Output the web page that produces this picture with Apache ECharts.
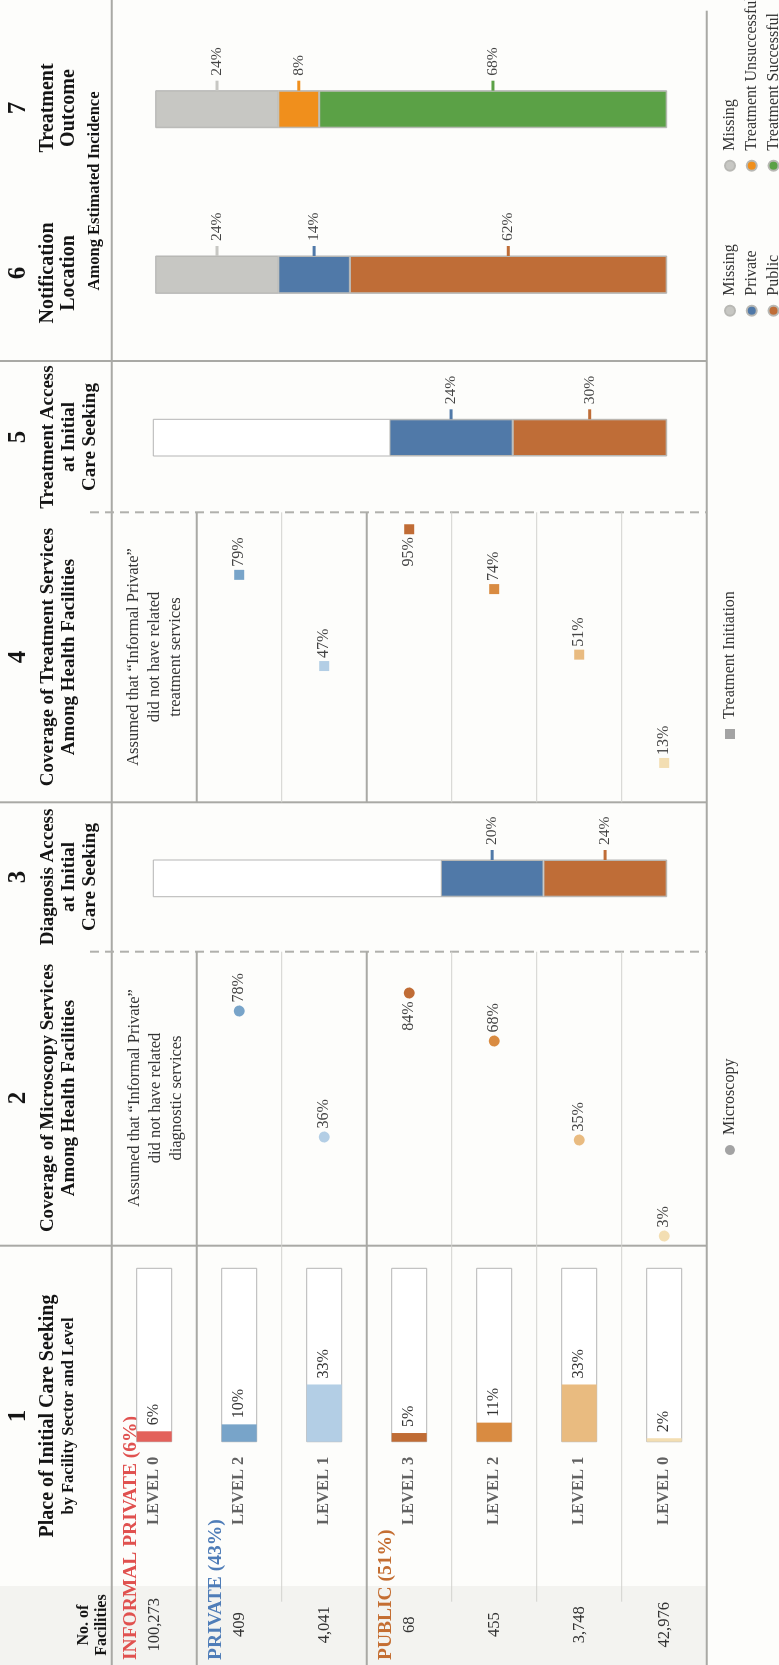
<!DOCTYPE html>
<html><head><meta charset="utf-8">
<script src="https://cdn.jsdelivr.net/npm/echarts@6/dist/echarts.min.js"></script>
<style>
html,body{margin:0;padding:0;width:779px;height:1665px;overflow:hidden;background:#fdfdfb;}
#wrap{position:absolute;left:0;top:0;width:1665px;height:779px;transform-origin:0 0;transform:translate(0,1665px) rotate(-90deg);}
#chart{width:1665px;height:779px;}
</style></head>
<body><div id="wrap"><div id="chart"></div></div>
<script>
// ---------- DATA ----------
const rowIds = ['IP-L0','PR-L2','PR-L1','PU-L3','PU-L2','PU-L1','PU-L0'];
const rowLevels = ['LEVEL 0','LEVEL 2','LEVEL 1','LEVEL 3','LEVEL 2','LEVEL 1','LEVEL 0'];
const facilityCounts = ['100,273','409','4,041','68','455','3,748','42,976'];
const initialCareSeeking = [6,10,33,5,11,33,2];
const microscopyCoverage = [null,78,36,84,68,35,3];
const treatmentCoverage = [null,79,47,95,74,51,13];
const sectorNames = ['INFORMAL PRIVATE','PRIVATE','PUBLIC'];
const sectorShares = [6,43,51];
const sectorFirstRow = [0,1,3];
const accessSectors = ['Private','Public'];
const diagnosisAccess = [20,24];
const treatmentAccess = [24,30];
const notificationCats = ['Missing','Private','Public'];
const notificationLocation = [24,14,62];
const outcomeCats = ['Missing','Treatment Unsuccessful','Treatment Successful'];
const treatmentOutcome = [24,8,68];

// ---------- STYLE / LAYOUT ----------
const FONT = '"Liberation Serif","Times New Roman",serif';
const rowColors = ['#e3615b','#78a4c9','#b3cee5','#c06c35','#d98b41','#e9bb80','#f3deb2'];
const sectorColors = ['#e0514f','#4f7db8','#c46e32'];
const segColors = {'Missing':'#c7c7c3','Private':'#5079a8','Public':'#bf6d37','Treatment Unsuccessful':'#f08f1c','Treatment Successful':'#5ba146'};
const ROW_TOP = 111.7, ROW_H = 85, NROWS = 7, ROW_BOTTOM = ROW_TOP + ROW_H*NROWS;
const thick = {stroke:'#a9a9a5', lineWidth:2};
const thin = {stroke:'#d2d2ce', lineWidth:1};
const dashed = {stroke:'#b0b0ac', lineWidth:2, lineDash:[9,6]};

function T(x, y, text, size, bold, color, align) {
  const a = align || 'center';
  return {type:'text', x:x, y:y, silent:true, style:{text:text, fill:color||'#151515',
    font:(bold?'bold ':'')+size+'px '+FONT, textAlign:a, align:a, textVerticalAlign:'middle', verticalAlign:'middle'}};
}
function Ln(x1,y1,x2,y2,st){ return {type:'line', silent:true, shape:{x1,y1,x2,y2}, style:Object.assign({},st)}; }

const g = [];
g.push({type:'rect', silent:true, shape:{x:0,y:0,width:79,height:ROW_BOTTOM}, style:{fill:'#f3f3f0'}});
g.push(Ln(0,ROW_TOP,1665,ROW_TOP,thick));
g.push(Ln(0,ROW_BOTTOM,1654.3,ROW_BOTTOM,thick));
[419.3,862.7,1304].forEach(x=>g.push(Ln(x,0,x,ROW_BOTTOM,thick)));
[713.3,1152.7].forEach(x=>g.push(Ln(x,90,x,ROW_BOTTOM,dashed)));
const thickRows=[1,3], thinRows=[2,4,5,6];
thickRows.forEach(r=>{const y=ROW_TOP+r*ROW_H; g.push(Ln(0,y,419.3,y,thick)); g.push(Ln(419.3,y,713.3,y,thick)); g.push(Ln(862.7,y,1152.7,y,thick));});
thinRows.forEach(r=>{const y=ROW_TOP+r*ROW_H; g.push(Ln(63.3,y,419.3,y,thin)); g.push(Ln(419.3,y,713.3,y,thin)); g.push(Ln(862.7,y,1152.7,y,thin));});

const headers = [
  {x:249, n:'1', lines:[['Place of Initial Care Seeking',20],['by Facility Sector and Level',16.5]]},
  {x:567, n:'2', lines:[['Coverage of Microscopy Services',19],['Among Health Facilities',19]]},
  {x:788, n:'3', lines:[['Diagnosis Access',19],['at Initial',19],['Care Seeking',19]]},
  {x:1008, n:'4', lines:[['Coverage of Treatment Services',19],['Among Health Facilities',19]]},
  {x:1228, n:'5', lines:[['Treatment Access',19],['at Initial',19],['Care Seeking',19]]},
  {x:1392, n:'6', lines:[['Notification',20],['Location',20]]},
  {x:1557, n:'7', lines:[['Treatment',20],['Outcome',20]]}
];
const lineY=[48,69,90];
headers.forEach(h=>{ g.push(T(h.x,19,h.n,25,true)); h.lines.forEach((l,i)=>g.push(T(h.x,lineY[i],l[0],l[1],true))); });
g.push(T(1474,95,'Among Estimated Incidence',16.5,true));
g.push(T(40,84,'No. of',16,true));
g.push(T(40,102,'Facilities',16,true));
sectorNames.forEach((s,i)=>{ g.push(T(5, ROW_TOP+sectorFirstRow[i]*ROW_H+19, s+' ('+sectorShares[i]+'%)', 19.5, true, sectorColors[i], 'left')); });
const note2=['Assumed that \u201cInformal Private\u201d','did not have related','diagnostic services'];
const note4=['Assumed that \u201cInformal Private\u201d','did not have related','treatment services'];
note2.forEach((t,i)=>g.push(T(567,135+i*21,t,16.5,false,'#333')));
note4.forEach((t,i)=>g.push(T(1008,134+i*21,t,16.5,false,'#333')));

// ---------- SERIES ----------
const series = [];
series.push({type:'bar', name:'Initial Care Seeking', xAxisIndex:0, yAxisIndex:0, barWidth:35,
  data: initialCareSeeking.map((v,i)=>({value:v, itemStyle:{color:rowColors[i]}})),
  showBackground:true, backgroundStyle:{color:'#ffffff', borderColor:'#b5b5b5', borderWidth:1},
  label:{show:true, position:'right', distance:6, formatter:'{c}%', fontFamily:FONT, fontSize:16, color:'#333'}});
function dots(vals, name, symbol, size, xi, yi){
  const data=[];
  vals.forEach((v,i)=>{ if(v==null) return; data.push({value:[v,i], itemStyle:{color:rowColors[i]},
    label:{position: v>80?'left':'right'}}); });
  return {type:'scatter', name, symbol, symbolSize:size, xAxisIndex:xi, yAxisIndex:yi, data,
    itemStyle:{color:'#a3a3a3', opacity:1},
    label:{show:true, distance:3, formatter:p=>p.value[0]+'%', fontFamily:FONT, fontSize:16, color:'#444'}};
}
series.push(dots(microscopyCoverage,'Microscopy','circle',11,1,2));
series.push(dots(treatmentCoverage,'Treatment Initiation','rect',10,2,3));
function stack(cats, vals, gi){
  for(let k=cats.length-1;k>=0;k--){
    const c=segColors[cats[k]];
    series.push({type:'bar', name:cats[k], stack:'s'+gi, xAxisIndex:gi, yAxisIndex:gi+1, barWidth:'100%',
      data:[vals[k]], itemStyle:{color:c, borderColor:'#b8b8b4', borderWidth:1},
      showBackground: k===cats.length-1, backgroundStyle:{color:'#ffffff', borderColor:'#b5b5b5', borderWidth:1},
      label:{show:true, position:'right', distance:0, formatter:'{t|}{v|{c}%}',
        rich:{t:{width:10,height:3,backgroundColor:c,verticalAlign:'middle'},
              v:{fontFamily:FONT,fontSize:15.5,color:'#444',padding:[0,0,0,5],verticalAlign:'middle'}}}});
  }
}
stack(accessSectors, diagnosisAccess, 3);
stack(accessSectors, treatmentAccess, 4);
stack(notificationCats, notificationLocation, 5);
stack(outcomeCats, treatmentOutcome, 6);

const hiddenCat = {type:'category', data:rowIds, inverse:true, show:false};
const gridBase = {outerBoundsMode:'none', containLabel:false};
const option = {
  backgroundColor:'#fdfdfb', animation:false, textStyle:{fontFamily:FONT},
  grid:[
    Object.assign({left:223.3, top:ROW_TOP, width:173.4, height:ROW_H*NROWS}, gridBase),
    Object.assign({left:420, top:ROW_TOP, width:300, height:ROW_H*NROWS}, gridBase),
    Object.assign({left:865, top:ROW_TOP, width:285, height:ROW_H*NROWS}, gridBase),
    Object.assign({left:768.3, top:153.3, width:36.7, height:513.4}, gridBase),
    Object.assign({left:1209, top:153.3, width:36.7, height:513.4}, gridBase),
    Object.assign({left:1371.7, top:155.7, width:37.3, height:511}, gridBase),
    Object.assign({left:1537.3, top:155.7, width:37, height:511}, gridBase)
  ],
  xAxis:[
    {gridIndex:0, type:'value', min:0, max:100, show:false},
    {gridIndex:1, type:'value', min:0, max:100, show:false},
    {gridIndex:2, type:'value', min:0, max:100, show:false},
    {gridIndex:3, type:'category', data:['all'], show:false},
    {gridIndex:4, type:'category', data:['all'], show:false},
    {gridIndex:5, type:'category', data:['all'], show:false},
    {gridIndex:6, type:'category', data:['all'], show:false}
  ],
  yAxis:[
    {gridIndex:0, type:'category', data:rowIds, inverse:true, position:'left',
      axisLine:{show:false}, axisTick:{show:false}, splitLine:{show:false},
      axisLabel:{margin:15, formatter:(v,i)=>rowLevels[i], fontFamily:FONT, fontWeight:'bold', fontSize:16.5, color:'#626262'}},
    {gridIndex:0, type:'category', data:rowIds, inverse:true, position:'left', offset:183,
      axisLine:{show:false}, axisTick:{show:false}, splitLine:{show:false},
      axisLabel:{margin:0, align:'center', formatter:(v,i)=>facilityCounts[i], fontFamily:FONT, fontSize:16.5, color:'#333'}},
    Object.assign({gridIndex:1}, hiddenCat),
    Object.assign({gridIndex:2}, hiddenCat),
    {gridIndex:3, type:'value', min:0, max:100, show:false},
    {gridIndex:4, type:'value', min:0, max:100, show:false},
    {gridIndex:5, type:'value', min:0, max:100, show:false},
    {gridIndex:6, type:'value', min:0, max:100, show:false}
  ],
  legend:(function(){
    const base = {selectedMode:false, itemWidth:20, itemHeight:10, padding:0, height:90,
      textStyle:{fontFamily:FONT, fontSize:16, color:'#333', lineHeight:20}};
    return [
      Object.assign({}, base, {left:510, top:720, data:[{name:'Microscopy', icon:'circle', itemStyle:{color:'#a3a3a3'}}]}),
      Object.assign({}, base, {left:926, top:720, data:[{name:'Treatment Initiation', icon:'path://M0,0H10V10H0Z', itemStyle:{color:'#a3a3a3'}}]}),
      Object.assign({}, base, {orient:'vertical', itemGap:1.7, left:1348.3, top:720,
        data:notificationCats.map(n=>({name:n, icon:'circle', itemStyle:{color:segColors[n]}}))}),
      Object.assign({}, base, {orient:'vertical', itemGap:1.7, left:1493.3, top:720,
        data:outcomeCats.map(n=>({name:n, icon:'circle', itemStyle:{color:segColors[n]}}))})
    ];
  })(),
  graphic:{elements:g},
  series:series
};
const chart = echarts.init(document.getElementById('chart'), null, {renderer:'canvas', width:1665, height:779});
chart.setOption(option);
</script>
</body></html>
